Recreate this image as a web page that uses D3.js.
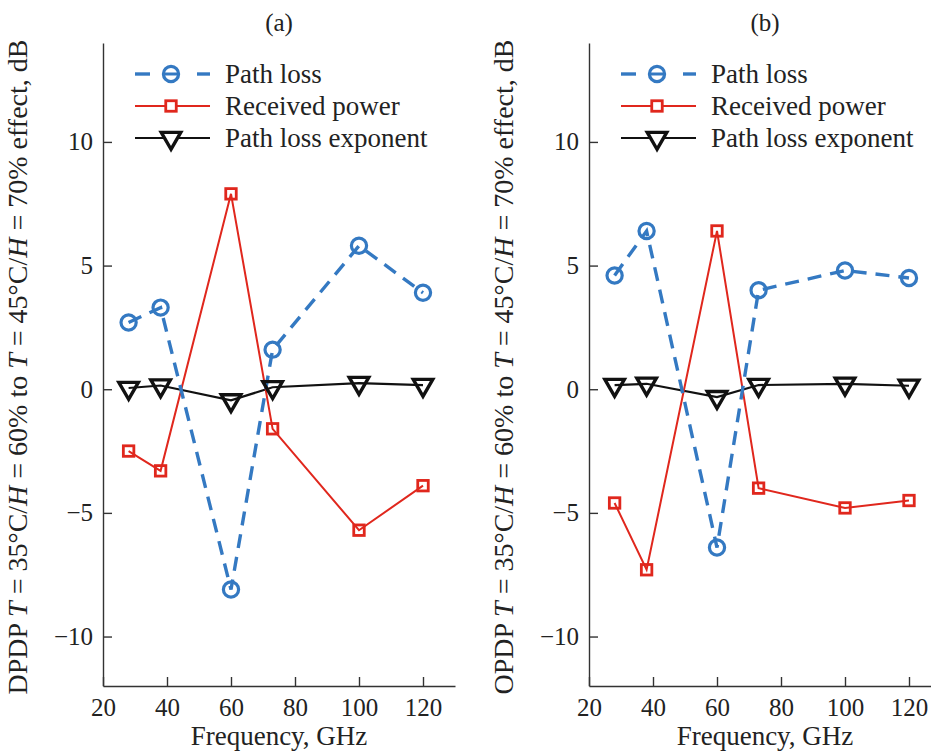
<!DOCTYPE html>
<html>
<head>
<meta charset="utf-8">
<script src="https://cdn.jsdelivr.net/npm/d3@7"></script>
<style>
  html, body { margin: 0; padding: 0; background: #fff; }
  svg { display: block; font-family: "Liberation Serif", "DejaVu Serif", serif; }
</style>
</head>
<body>
<svg id="chart" width="931" height="755"></svg>
<script>
// Frequencies measured, GHz
const frequencies = [28, 38, 60, 73, 100, 120];

// Panel (a): DPDP change, dB
const pathLossA      = [2.7, 3.3, -8.1, 1.6, 5.8, 3.9];
const receivedPowerA = [-2.5, -3.3, 7.9, -1.6, -5.7, -3.9];
const exponentA      = [0.05, 0.15, -0.45, 0.08, 0.25, 0.17];

// Panel (b): OPDP change, dB
const pathLossB      = [4.6, 6.4, -6.4, 4.0, 4.8, 4.5];
const receivedPowerB = [-4.6, -7.3, 6.4, -4.0, -4.8, -4.5];
const exponentB      = [0.17, 0.22, -0.32, 0.17, 0.22, 0.14];

const xTicks = [20, 40, 60, 80, 100, 120];
const yTicks = [-10, -5, 0, 5, 10];
const seriesNames = ["Path loss", "Received power", "Path loss exponent"];
const panelTitles = ["(a)", "(b)"];
const panelPrefixes = ["DPDP", "OPDP"];

const blue = "#3479c2", red = "#e0271d", black = "#111";
const svg = d3.select("#chart");

function drawPanel(left, title, prefix, pl, rp, ple) {
  const x = d3.scaleLinear().domain([20, 130]).range([left, left + 352]);
  const y = d3.scaleLinear().domain([-12, 14]).range([686, 43]);
  const g = svg.append("g");

  // axes (ticks point inward)
  const xAxis = g.append("g").attr("transform", "translate(0,686)")
    .call(d3.axisBottom(x).tickValues(xTicks).tickSizeInner(-9).tickSizeOuter(0).tickPadding(12));
  const yAxis = g.append("g").attr("transform", `translate(${left},0)`)
    .call(d3.axisLeft(y).tickValues(yTicks).tickSizeInner(-9).tickSizeOuter(0).tickPadding(10)
      .tickFormat(d => d < 0 ? "\u2212" + Math.abs(d) : d));
  [xAxis, yAxis].forEach(a => {
    a.selectAll("path, line").attr("stroke", "#333").attr("stroke-width", 1.4);
    a.selectAll("text").attr("font-size", 25).attr("fill", "#222")
      .attr("font-family", "Liberation Serif, serif");
  });

  g.append("text").attr("x", x(75)).attr("y", 31).attr("text-anchor", "middle")
    .attr("font-size", 25).attr("fill", "#222").text(title);
  g.append("text").attr("x", x(75)).attr("y", 745).attr("text-anchor", "middle")
    .attr("font-size", 27).attr("fill", "#222").text("Frequency, GHz");

  // rotated y label with italic T and H
  const yl = g.append("text")
    .attr("transform", `translate(${left - 76},367) rotate(-90)`)
    .attr("text-anchor", "middle").attr("font-size", 28).attr("fill", "#222");
  const parts = [
    [prefix + " ", false], ["T", true], [" = 35°C/", false], ["H", true],
    [" = 60% to ", false], ["T", true], [" = 45°C/", false], ["H", true],
    [" = 70% effect, dB", false]
  ];
  parts.forEach(([t, it]) => yl.append("tspan").attr("font-style", it ? "italic" : "normal").text(t));

  const line = d3.line().x((d, i) => x(frequencies[i])).y(d => y(d));

  // path loss exponent
  g.append("path").datum(ple).attr("d", line).attr("fill", "none")
    .attr("stroke", black).attr("stroke-width", 2.2);
  // received power
  g.append("path").datum(rp).attr("d", line).attr("fill", "none")
    .attr("stroke", red).attr("stroke-width", 2);
  // path loss (dashed)
  g.append("path").datum(pl).attr("d", line).attr("fill", "none")
    .attr("stroke", blue).attr("stroke-width", 3.4).attr("stroke-dasharray", "14,9");

  const tri = d3.symbol().type(d3.symbolTriangle).size(165);
  g.selectAll(".ple").data(ple).enter().append("path")
    .attr("d", tri).attr("transform", (d, i) => `translate(${x(frequencies[i])},${y(d)}) rotate(180)`)
    .attr("fill", "none").attr("stroke", black).attr("stroke-width", 3.4);
  g.selectAll(".rp").data(rp).enter().append("rect")
    .attr("x", (d, i) => x(frequencies[i]) - 5.25).attr("y", d => y(d) - 5.25)
    .attr("width", 10.5).attr("height", 10.5)
    .attr("fill", "none").attr("stroke", red).attr("stroke-width", 2.8);
  g.selectAll(".pl").data(pl).enter().append("circle")
    .attr("cx", (d, i) => x(frequencies[i])).attr("cy", d => y(d)).attr("r", 7.6)
    .attr("fill", "none").attr("stroke", blue).attr("stroke-width", 3.2);

  // legend
  const lg = g.append("g").attr("transform", `translate(${left + 32},0)`);
  const rows = [74, 106, 138];
  [[0, 15], [62, 75]].forEach(([a, b]) =>
    lg.append("line").attr("x1", a).attr("x2", b).attr("y1", rows[0]).attr("y2", rows[0])
      .attr("stroke", blue).attr("stroke-width", 3.4));
  lg.append("line").attr("x1", 29).attr("x2", 43).attr("y1", rows[0]).attr("y2", rows[0])
    .attr("stroke", blue).attr("stroke-width", 3);
  lg.append("circle").attr("cx", 36).attr("cy", rows[0]).attr("r", 7.6)
    .attr("fill", "none").attr("stroke", blue).attr("stroke-width", 3.2);
  lg.append("line").attr("x1", 0).attr("x2", 75).attr("y1", rows[1]).attr("y2", rows[1])
    .attr("stroke", red).attr("stroke-width", 2);
  lg.append("rect").attr("x", 36 - 5.25).attr("y", rows[1] - 5.25).attr("width", 10.5).attr("height", 10.5)
    .attr("fill", "#fff").attr("stroke", red).attr("stroke-width", 2.8);
  lg.append("line").attr("x1", 0).attr("x2", 75).attr("y1", rows[2]).attr("y2", rows[2])
    .attr("stroke", black).attr("stroke-width", 2.2);
  lg.append("path").attr("d", tri).attr("transform", `translate(36,${rows[2]}) rotate(180)`)
    .attr("fill", "#fff").attr("stroke", black).attr("stroke-width", 3.4);
  seriesNames.forEach((n, i) => {
    lg.append("text").attr("x", 90).attr("y", rows[i] + 9).attr("font-size", 27)
      .attr("fill", "#222").text(n);
  });
}

drawPanel(103, panelTitles[0], panelPrefixes[0], pathLossA, receivedPowerA, exponentA);
drawPanel(589, panelTitles[1], panelPrefixes[1], pathLossB, receivedPowerB, exponentB);
</script>
</body>
</html>
